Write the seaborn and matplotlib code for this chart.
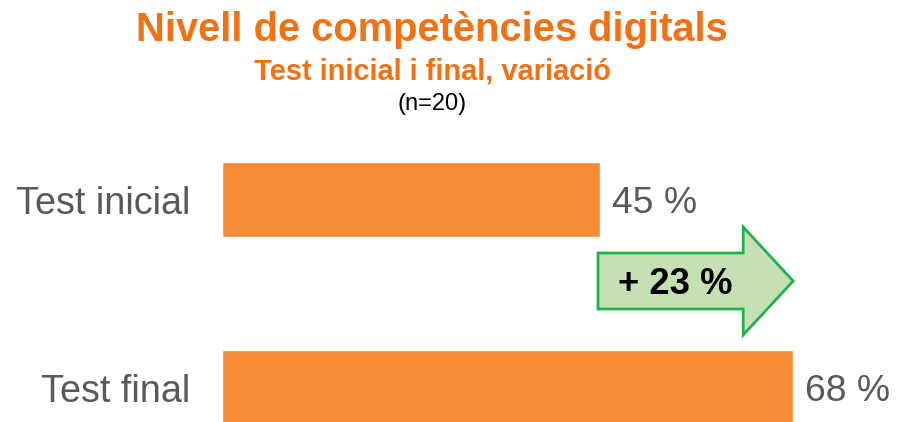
import matplotlib
matplotlib.use("Agg")
import matplotlib.pyplot as plt
import seaborn as sns
import pandas as pd
from matplotlib.patches import FancyArrow

categories = ["Test inicial", "Test final"]
values = [45, 68]
title = "Nivell de competències digitals"
subtitle = "Test inicial i final, variació"
note = "(n=20)"

sns.set_theme(style="white")
plt.rcParams['font.family'] = ['Liberation Sans', 'DejaVu Sans']

BAR = "#F78A35"
TITLE = "#F07214"
GRAY = "#595959"

W, H = 897, 422
fig = plt.figure(figsize=(W / 100, H / 100), dpi=100)
px_per = 8.4
left = 222
ax = fig.add_axes([left / W, 0, 1 - left / W, 302 / H])

df = pd.DataFrame({"cat": categories, "val": values})
sns.barplot(data=df, x="val", y="cat", orient="h", color=BAR, saturation=1,
            width=0.4, ax=ax)

ax.set_xlim(0, (W - left) / px_per)
c0, c1 = 199.5, 387.5
unit = c1 - c0
ax.set_ylim(1 + (422 - c1) / unit, -(c0 - 120) / unit)

for s in ax.spines.values():
    s.set_visible(False)
ax.set_xticks([])
ax.set_xlabel("")
ax.set_ylabel("")
ax.tick_params(axis="y", length=0, pad=23, labelsize=27.2, labelcolor=GRAY)

for i, v in enumerate(values):
    ax.text(v + 12 / px_per, i, f"{v} %", fontsize=26.8, color=GRAY,
            ha="left", va="center_baseline")

# variation arrow
diff = values[1] - values[0]
head_len = 50 / px_per
ymid = (281 - c0) / unit
arrow = FancyArrow(values[0] - 2 / px_per, ymid, diff + 2 / px_per, 0,
                   width=56 / unit, head_width=108 / unit,
                   head_length=head_len, length_includes_head=True,
                   facecolor="#C5E0B4", edgecolor="#22B24C", linewidth=2,
                   zorder=3)
ax.add_patch(arrow)
ax.text(values[0] + (diff - head_len) / 2 + 3.5 / px_per, ymid, f"+ {diff} %",
        fontsize=26.2, fontweight="bold", color="black", ha="center",
        va="center_baseline", zorder=4)

cx = 432 / W
fig.text(cx, 1 - 41 / H, title, fontsize=28.7, fontweight="bold",
         color=TITLE, ha="center", va="baseline")
fig.text(cx, 1 - 79 / H, subtitle, fontsize=20.9, fontweight="bold",
         color=TITLE, ha="center", va="baseline")
fig.text(cx, 1 - 110 / H, note, fontsize=17, color="black",
         ha="center", va="baseline")

fig.savefig("out.png", dpi=100)
